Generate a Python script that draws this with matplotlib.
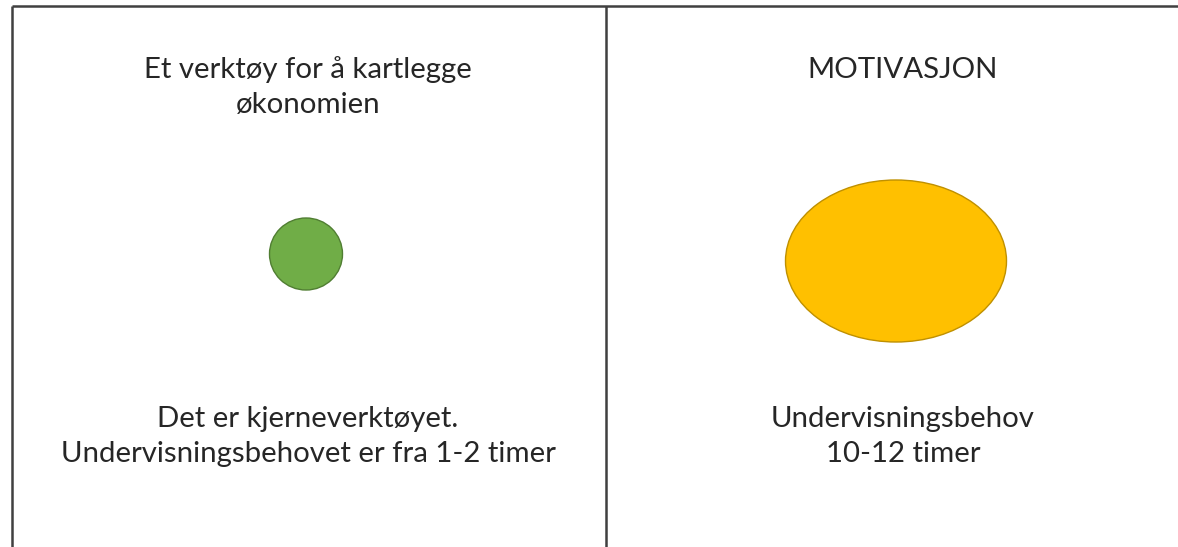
import matplotlib.pyplot as plt
from matplotlib.patches import Ellipse

# Two panels: title, shape, and description for each
titles = [["Et verktøy for å kartlegge", "økonomien"], ["MOTIVASJON"]]
notes = [["Det er kjerneverktøyet.", "Undervisningsbehovet er fra 1-2 timer"],
         ["Undervisningsbehov", "10-12 timer"]]
shape_w = [73, 221]
shape_h = [72, 162]
fills = ["#70AD47", "#FFC000"]
edges = ["#507E32", "#BF9000"]

W, H = 1178, 547
fig = plt.figure(figsize=(W / 100, H / 100), dpi=100)
ax = fig.add_axes([0, 0, 1, 1])
ax.set_xlim(0, W)
ax.set_ylim(H, 0)
ax.axis("off")

# frame lines (no bottom or right edge visible)
line_kw = dict(color="#404040", lw=1.8, solid_capstyle="butt")
ax.plot([11.5, W], [5.5, 5.5], **line_kw)
ax.plot([11.5, 11.5], [5.5, H], **line_kw)
ax.plot([606, 606], [5.5, H], **line_kw)

text_kw = dict(ha="center", va="baseline", fontsize=21.2, color="#262626",
               family="Lato")
cx_text = [308, 903]
cx_shape = [306, 896]
cy_shape = [254, 261]
for i in range(2):
    for j, s in enumerate(titles[i]):
        ax.text(cx_text[i], 78 + 35 * j, s, **text_kw)
    for j, s in enumerate(notes[i]):
        ax.text(cx_text[i], 427 + 35 * j, s, **text_kw)
    ax.add_patch(Ellipse((cx_shape[i], cy_shape[i]), shape_w[i], shape_h[i],
                         facecolor=fills[i], edgecolor=edges[i], lw=1))

fig.savefig("out.png", dpi=100)
